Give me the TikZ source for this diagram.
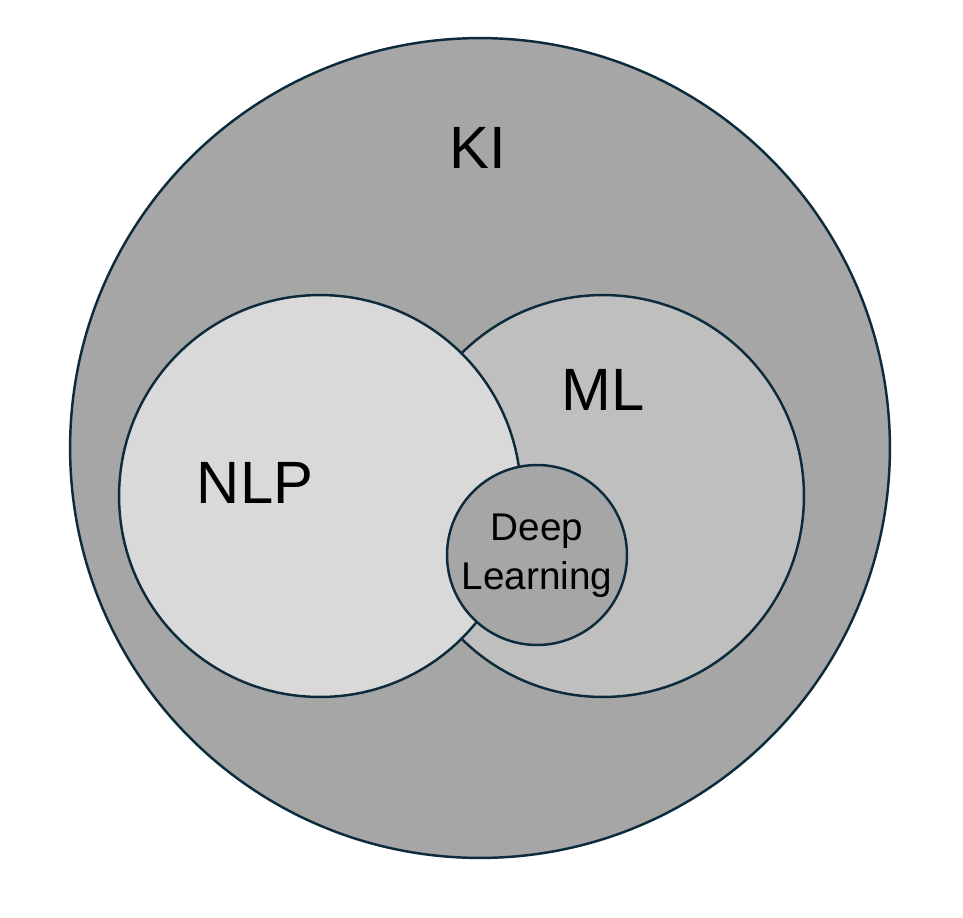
\documentclass[tikz,border=0pt]{standalone}
\usepackage{fontspec}
\setmainfont{Liberation Sans}
\definecolor{rand}{HTML}{0D2B3A}
\definecolor{grauA}{HTML}{A6A6A6}
\definecolor{grauB}{HTML}{BFBFBF}
\definecolor{grauC}{HTML}{D9D9D9}
\begin{document}
\begin{tikzpicture}[x=0.02cm, y=-0.02cm,
        menge/.style={circle, draw=rand, line width=1.4pt, inner sep=0pt},
        gross/.style={font=\fontsize{34}{40}\selectfont},
        klein/.style={font=\fontsize{22}{28}\selectfont, align=center}]
        \useasboundingbox (0,0) rectangle (963,917);
        \node[menge, fill=grauA, minimum size=16.4cm] (ki) at (480,448) {};
        \node[menge, fill=grauB, minimum size=8.04cm] (ml) at (603,496) {};
        \node[menge, fill=grauC, minimum size=8.04cm] (nlp) at (320,496) {};
        \node[menge, fill=grauA, minimum size=3.6cm] (dl) at (537,555) {};
        \node[gross] (kitext) at (478,148) {KI};
        \node[gross] (mltext) at (603,390) {ML};
        \node[gross] (nlptext) at (255,483) {NLP};
        \node[klein] (dltext) at (537,556) {Deep\\Learning};
\end{tikzpicture}
\end{document}
